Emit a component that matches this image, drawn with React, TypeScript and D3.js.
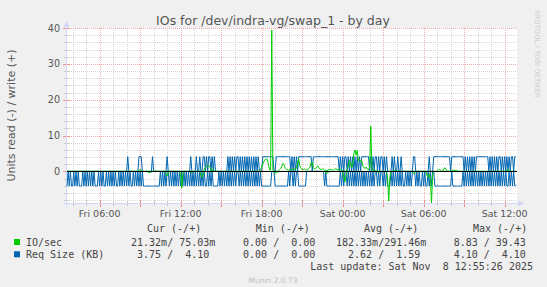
import React from "react";
import * as d3 from "d3";

// time axis: 5-minute samples, Fri Nov 7 2025 03:35 -> Sat Nov 8 2025 12:55 (UTC used as local)
const startTime = Date.UTC(2025, 10, 7, 3, 35);
const endTime = Date.UTC(2025, 10, 8, 12, 55);
const stepMinutes = 5;

// IO/sec read (drawn negative)
const ioRead = [
  0,0,0,0,0,0,0,0,0,0,0,0,0,0,0,0,0,0,0,0,
  0,0,0,0,0,0,0,0,0,0,0,0,0,0,0,0,0,0,0,0,
  0,0,0,0,0,0,0,0,0,0,0,0,0,0,0,0,0,0,0,0,
  0,0,0,0,0,0,0,0,0,0,0,0,0.3,0.4,0.3,0.2,0,0,0,0,
  0,0,0,0,0,0,0,0,0.6,1.3,0.5,0,0,0,0,0,0,0,0,0,
  0,1.0,4.7,0.8,0,0,0,0,0,0,0,0.5,0,0,0,0,0,0,0,1.2,
  1.6,0.9,0.3,0,0,0,0,0,0,0,0,0,0,0,0,0,0,0,0,0,
  0,0,0,0,0,0,0,0,0,0,0,0,0,0,0,0,0,0,0,0,
  0,0,0,0,0,0,0,0,0,0,0,0,0,0,0,0,0,0,0,0,
  0,0,0,0,0.3,0.5,0.4,0.2,0.1,0,0,0,0,0,0,0,0,0,0,0,
  0,0,0,0,0,0,0,0,0,0,0,0,0,0,0,0,0,0,0,0,
  0,0,0,0,0,0,0,0,0,0,0.4,0.6,0.3,0.1,0,0,0,0,0,0,
  0,0,0,0,0,0,1.5,3.0,1.2,0,0,0,0,0,0,0,0,0,0,0,
  0,0,0,0,0,0,0,0,0,0,0,0,0,0,0,0,0.2,0.3,0.2,0,
  0,0,0,0,0,2.0,8.3,1.5,0,0,0,0,0,0,0,0,0,0,0,0,
  0,0,0,0,0,0,0,0,0.6,0.4,0,0,0,0,0,0,0,0,0,0,
  1.2,1.6,0.8,2.0,8.83,1.0,0,0,0,0,0,0,0,0,0,0,0,0,0,0,
  0,0,0,0,0,0,0,0,0,0,0,0,0,0,0,0,0,0,0,0,
  0,0,0,0,0,0,0,0,0,0,0,0,0,0,0,0,0,0,0,0,
  0,0,0,0,0,0,0,0,0,0,0,0,0,0,0,0,0,0,0,0.021,
];

// IO/sec write (drawn positive)
const ioWrite = [
  0,0,0,0,0,0,0,0,0,0,0,0,0,0,0,0,0,0,0,0,
  0,0,0,0,0,0,0,0,0,0,0,0,0,0,0,0,0,0,0,0,
  0,0,0,0,0,0,0,0,0,0,0,0,0,0,0,0,0,0,0,0,
  0,0,0,0,0.3,0.5,0.4,0,0,0,0,0,0,0,0,0,0,0,0,0.2,
  0,0,0,0,0,0,0,0,0,0,0,0,0,0,0,0,0,0,0,0,
  0,0,0,0,0,0,0,0,0,0,0,0,0,0,0,0,0,0,0,0,
  0,0,0.5,1.0,1.5,1.8,1.6,1.2,0.6,0,0.5,0,0,0,0,0,0,0,0,0,
  0,0,0,0,0,0,0,0,0,0,0,0,0,0,0,0,0,0,0,0,
  0,0,0,0,0,0,0,0,0,0,0,0,0.5,1.2,2.0,2.8,3.3,3.5,3.4,2.0,
  0.5,0.3,39.43,0.5,0,0,0,0,0.3,0.5,0.8,1.5,2.2,1.8,0.8,0.5,0.5,0.3,0.6,0.4,
  0.5,0.8,0.6,0.5,1.0,2.5,3.5,1.5,0.8,0.6,0.5,0.7,0.4,0.6,0.5,0.8,1.2,2.5,2.6,1.0,
  0.6,0.8,1.2,1.5,1.0,0.6,0.5,0.8,0.6,0.4,0.3,0.2,0.3,0.5,0.6,0.4,0.5,0.3,0.6,0.8,
  0.5,0.4,0.6,0.5,0.3,0.2,0,0,0,0.5,1.5,3.0,2.5,1.0,2.0,5.0,6.0,4.5,5.8,3.0,
  3.3,2.8,3.0,1.5,1.0,0.8,1.2,0.6,0.5,1.0,12.6,1.0,0.3,0.2,0.2,0.2,0,0,0,0,
  0,0,0,0,0,0,0,0,0,0,0.2,0.2,0.2,0,0,0,0,0,0,0,
  0,0,0,0,0,0,0,0,0,0,0,0,0,0,0,0,0,0,0,0,
  0,0,0,0,0,0,0,0,0,0,0.4,0.6,0.4,0,0,0.8,1.0,0.6,0,0,
  0,0,0.3,0.3,0.3,0.3,0.2,0.2,0,0,0,0,0,0,0,0,0,0,0,0,
  0,0,0,0,0,0,0,0,0,0,0,0,0,0,0,0,0,0,0,0,
  0,0,0,0,0,0,0,0,0,0,0,0.4,0.5,0,0,0,0,0,0,0.075,
];

// Req Size (KB) read (drawn negative)
const reqRead = [
  4.1,0,4.1,0,4.1,4.1,0,4.1,0,4.1,0,4.1,4.1,4.1,0,4.1,0,4.1,0,4.1,
  0,4.1,0,4.1,0,4.1,4.1,4.1,0,4.1,0,4.1,0,4.1,4.1,0,4.1,0,4.1,0,
  4.1,0,4.1,0,4.1,4.1,0,4.1,0,4.1,0,4.1,0,4.1,0,4.1,0,4.1,4.1,0,
  4.1,0,4.1,0,4.1,0,4.1,0,4.1,4.1,4.1,4.1,4.1,4.1,4.1,4.1,4.1,4.1,4.1,4.1,
  4.1,4.1,4.1,0,4.1,0,4.1,0,4.1,0,0,4.1,0,4.1,0,4.1,0,4.1,0,4.1,
  0,4.1,0,4.1,0,4.1,0,4.1,0,4.1,0,4.1,0,4.1,0,4.1,0,4.1,0,4.1,
  0,4.1,0,4.1,4.1,0,4.1,0,4.1,0,4.1,4.1,4.1,4.1,4.1,0,4.1,0,4.1,0,
  4.1,0,4.1,0,4.1,0,4.1,0,4.1,0,4.1,0,0,4.1,0,4.1,0,4.1,0,4.1,
  0,4.1,0,4.1,0,4.1,0,4.1,0,4.1,0,4.1,0,4.1,4.1,4.1,4.1,4.1,4.1,4.1,
  4.1,4.1,0,0,0,4.1,4.1,4.1,4.1,4.1,4.1,4.1,4.1,4.1,4.1,4.1,4.1,0,4.1,0,
  0,4.1,0,4.1,0,0,4.1,4.1,4.1,4.1,4.1,4.1,4.1,0,0,0,0,0,0,0,
  0,0,0,0,0,0,0,0,0,4.1,0,4.1,4.1,4.1,4.1,4.1,4.1,4.1,4.1,4.1,
  4.1,4.1,4.1,0,4.1,0,4.1,0,0,4.1,0,4.1,0,4.1,0,4.1,0,4.1,0,4.1,
  0,4.1,0,4.1,0,4.1,0,4.1,0,4.1,0,4.1,0,4.1,0,0,4.1,0,4.1,0,
  0,4.1,0,4.1,0,4.1,4.1,4.1,0,4.1,0,4.1,0,4.1,0,4.1,0,4.1,0,4.1,
  4.1,0,4.1,0,4.1,0,4.1,0,0,0,4.1,0,4.1,0,4.1,4.1,0,4.1,0,4.1,
  4.1,0,4.1,0,4.1,0,0,4.1,4.1,4.1,4.1,4.1,4.1,4.1,4.1,4.1,4.1,4.1,4.1,4.1,
  4.1,4.1,0,4.1,4.1,4.1,4.1,4.1,4.1,4.1,4.1,4.1,0,4.1,0,4.1,0,4.1,0,4.1,
  0,4.1,0,4.1,0,4.1,0,4.1,0,4.1,0,4.1,0,4.1,0,4.1,0,4.1,0,4.1,
  0,4.1,0,4.1,0,4.1,0,4.1,0,4.1,0,4.1,4.1,0,4.1,0,4.1,0,4.1,3.75,
];

// Req Size (KB) write (drawn positive)
const reqWrite = [
  0,0,0,0,0,0,0,0,0,0,0,0,0,0,0,0,0,0,0,0,
  0,0,0,0,0,0,0,0,0,0,0,0,0,0,0,0,0,0,0,0,
  0,0,0,0,0,0,0,0,0,0,0,0,0,0,4.1,0,0,0,0,0,
  0,0,0,0,4.1,4.1,4.1,0,0,0,0,0,0,0,0,0,4.1,0,0,0,
  0,0,0,0,0,0,0,0,0,4.1,0,0,0,0,0,0,0,0,0,0,
  0,0,0,0,0,0,0,0,0,0,4.1,0,0,0,0,4.1,0,0,4.1,0,
  0,4.1,4.1,0,4.1,0,4.1,4.1,0,4.1,0,4.1,0,0,0,0,0,0,0,0,
  0,0,0,4.1,0,4.1,0,4.1,0,4.1,0,4.1,4.1,0,4.1,0,4.1,0,4.1,0,
  4.1,0,4.1,0,4.1,0,4.1,0,4.1,0,4.1,0,0,0,4.1,4.1,4.1,4.1,4.1,4.1,
  4.1,4.1,4.1,4.1,0,0,4.1,4.1,4.1,4.1,4.1,4.1,4.1,4.1,4.1,4.1,4.1,4.1,4.1,0,
  4.1,0,4.1,0,4.1,0,4.1,4.1,4.1,4.1,4.1,4.1,4.1,4.1,4.1,4.1,4.1,4.1,0,4.1,
  4.1,4.1,4.1,4.1,4.1,4.1,4.1,4.1,4.1,4.1,4.1,4.1,4.1,4.1,4.1,4.1,4.1,4.1,4.1,4.1,
  4.1,4.1,0,4.1,0,4.1,0,4.1,4.1,0,4.1,0,4.1,0,4.1,0,4.1,0,4.1,0,
  4.1,0,4.1,4.1,4.1,4.1,4.1,4.1,4.1,0,4.1,0,4.1,0,4.1,4.1,0,4.1,0,4.1,
  4.1,0,4.1,0,4.1,0,0,0,0,4.1,0,4.1,0,0,4.1,0,0,4.1,0,0,
  0,0,0,0,0,0,0,0,4.1,4.1,0,0,0,0,0,0,0,0,0,0,
  0,0,4.1,0,0,0,4.1,4.1,4.1,4.1,4.1,4.1,4.1,4.1,4.1,4.1,4.1,4.1,4.1,4.1,
  4.1,0,4.1,4.1,4.1,4.1,4.1,4.1,4.1,4.1,4.1,4.1,4.1,0,4.1,0,4.1,0,4.1,0,
  4.1,0,4.1,0,4.1,4.1,4.1,4.1,4.1,4.1,4.1,4.1,4.1,4.1,4.1,0,4.1,0,4.1,0,
  4.1,0,4.1,0,4.1,4.1,0,4.1,0,4.1,0,4.1,0,4.1,0,4.1,4.1,0,4.1,4.1,
];

const yTickValues = [0, 10, 20, 30, 40];
const seriesNames = ["IO/sec", "Req Size (KB)"];
const seriesColors = ["#00cc00", "#0066b3"];
const legendHeaders = ["Cur (-/+)", "Min (-/+)", "Avg (-/+)", "Max (-/+)"];
const curText = [" 21.32m/ 75.03m", "  3.75 /  4.10 "];
const minText = ["  0.00 /  0.00 ", "  0.00 /  0.00 "];
const avgText = ["182.33m/291.46m", "  2.62 /  1.59 "];
const maxText = ["  8.83 / 39.43 ", "  4.10 /  4.10 "];
const titleText = "IOs for /dev/indra-vg/swap_1 - by day";
const yTitle = "Units read (-) / write (+)";
const lastUpdate = "Last update: Sat Nov  8 12:55:26 2025";
const footer = "Munin 2.0.73";
const watermark = "RRDTOOL / TOBI OETIKER";

const W = 547, H = 287;
const L = 67, R = 517, T = 28, B = 203;

const keepSpaces = (s: string) => s.replace(/ /g, "\u00a0");

export default function App() {
  const x = d3.scaleUtc().domain([new Date(startTime), new Date(endTime)]).range([L, R]);
  const y = d3.scaleLinear().domain([-8.83, 40]).range([B, T]);
  const t = (i: number) => new Date(startTime + i * stepMinutes * 60000);

  const line = d3
    .line<number>()
    .x((_, i) => x(t(i)))
    .y((v) => y(v));

  const hours = d3.utcHour.range(new Date(startTime), new Date(endTime));
  const minorY = d3.range(-8, 41, 2).filter((v) => v % 10 !== 0);
  const labelTicks = d3.utcHour.every(6)!.range(new Date(startTime), new Date(endTime));
  const fmt = d3.utcFormat("%a %H:%M");

  const sans = "'DejaVu Sans', sans-serif";
  const mono = "'DejaVu Sans Mono', monospace";
  const axisColor = "#CFD6F8";
  const minorGrid = "#d6d6d6";
  const majorGrid = "#eeaaaa";

  const colX = [125, 231, 336, 441.6];
  const headerX = [147, 255.7, 364, 473];
  const rowY = [245.5, 257.8];
  const colTexts = [curText, minText, avgText, maxText];

  return (
    <svg width={W} height={H} style={{ position: "absolute", left: 0, top: 0 }}>
      <rect x={0} y={0} width={W} height={H} fill="#f0f0f0" />
      <rect x={L} y={T} width={R - L} height={B - T} fill="#ffffff" />

      {/* grid */}
      <g shapeRendering="crispEdges">
        {minorY.map((v) => (
          <line key={"my" + v} x1={L} x2={R} y1={Math.round(y(v)) + 0.5} y2={Math.round(y(v)) + 0.5}
            stroke={minorGrid} strokeDasharray="1,1" />
        ))}
        {hours.map((h) => {
          const major = h.getUTCHours() % 3 === 0;
          const xx = Math.round(x(h)) + 0.5;
          return (
            <line key={"vx" + +h} x1={xx} x2={xx} y1={T} y2={B}
              stroke={major ? majorGrid : minorGrid} strokeDasharray="1,1" />
          );
        })}
        {yTickValues.map((v) => (
          <line key={"My" + v} x1={L} x2={R} y1={Math.round(y(v)) + 0.5} y2={Math.round(y(v)) + 0.5}
            stroke={majorGrid} strokeDasharray="1,1" />
        ))}
        {minorY.map((v) => (
          <line key={"ty" + v} x1={64} x2={69} y1={Math.round(y(v)) + 0.5} y2={Math.round(y(v)) + 0.5} stroke="#c8c8c8" />
        ))}
        {yTickValues.map((v) => (
          <line key={"tY" + v} x1={63} x2={70} y1={Math.round(y(v)) + 0.5} y2={Math.round(y(v)) + 0.5} stroke="#e89090" />
        ))}
        {hours.map((h) => {
          const major = h.getUTCHours() % 3 === 0;
          const xx = Math.round(x(h)) + 0.5;
          return (
            <line key={"tx" + +h} x1={xx} x2={xx} y1={major ? 200 : 201} y2={major ? 207 : 206}
              stroke={major ? "#e89090" : "#c8c8c8"} />
          );
        })}
      </g>

      {/* axes */}
      <g shapeRendering="crispEdges">
        <line x1={66.5} x2={66.5} y1={24} y2={207} stroke={axisColor} />
        <line x1={63} x2={520} y1={203.5} y2={203.5} stroke={axisColor} />
      </g>
      <path d="M66.5,21 L69.5,27 L63.5,27 Z" fill={axisColor} />
      <path d="M524,203.5 L518,200.5 L518,206.5 Z" fill={axisColor} />

      {/* data */}
      <g fill="none" strokeWidth={1}>
        <path d={line(reqRead.map((v) => -v)) || ""} stroke={seriesColors[1]} />
        <path d={line(reqWrite) || ""} stroke={seriesColors[1]} />
        <path d={line(ioRead.map((v) => -v)) || ""} stroke={seriesColors[0]} />
        <path d={line(ioWrite) || ""} stroke={seriesColors[0]} />
      </g>
      <line x1={L} x2={R} y1={Math.round(y(0)) + 0.5} y2={Math.round(y(0)) + 0.5} stroke="#000" shapeRendering="crispEdges" />

      {/* title */}
      <text x={273} y={25} textAnchor="middle" fontFamily={sans} fontSize={12.5} fill="#555">{titleText}</text>

      {/* y labels */}
      {yTickValues.map((v) => (
        <text key={"yl" + v} x={60} y={y(v) + 3.6} textAnchor="end" fontFamily={sans} fontSize={9.6} fill="#555">{v}</text>
      ))}
      <text transform={`translate(15,115.5) rotate(-90)`} textAnchor="middle" fontFamily={sans} fontSize={11} fill="#555">{yTitle}</text>

      {/* x labels */}
      {labelTicks.map((d) => (
        <text key={"xl" + +d} x={x(d)} y={217} textAnchor="middle" fontFamily={sans} fontSize={9.5} fill="#555">{fmt(d)}</text>
      ))}

      {/* watermark */}
      <text transform="translate(534.5,10) rotate(90)" fontFamily={sans} fontSize={6.8} fill="#cccccc">{watermark}</text>

      {/* legend */}
      <g fontFamily={mono} fontSize={10} fill="#444">
        {legendHeaders.map((h, i) => (
          <text key={"h" + i} x={headerX[i]} y={232}>{keepSpaces(h)}</text>
        ))}
        {seriesNames.map((n, r) => (
          <g key={"r" + r}>
            <rect x={14} y={rowY[r] - 6.5} width={6} height={6} fill={seriesColors[r]} />
            <text x={26} y={rowY[r]}>{keepSpaces(n)}</text>
            {colTexts.map((c, ci) => (
              <text key={"c" + ci} x={colX[ci]} y={rowY[r]}>{keepSpaces(c[r])}</text>
            ))}
          </g>
        ))}
        <text x={533} y={270} textAnchor="end">{keepSpaces(lastUpdate)}</text>
      </g>
      <text x={273} y={283} textAnchor="middle" fontFamily={sans} fontSize={7.5} fill="#c0c0c0">{footer}</text>
    </svg>
  );
}
